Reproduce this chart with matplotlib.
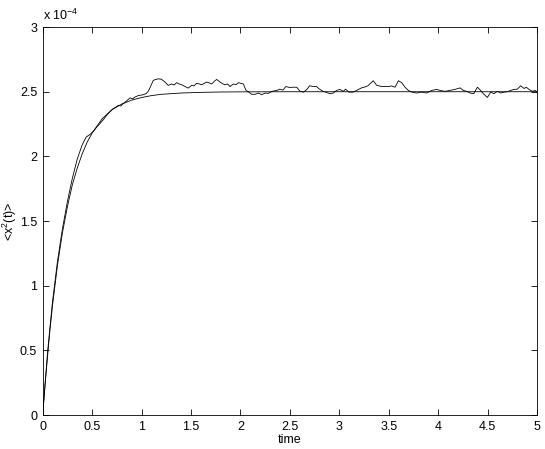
import matplotlib
matplotlib.use("Agg")
import matplotlib.pyplot as plt
from matplotlib.ticker import FuncFormatter

plt.rcParams["font.family"] = ["Liberation Sans", "DejaVu Sans"]
plt.rcParams["mathtext.default"] = "regular"

# values in units of 1e-4
theory_t = [0, 0.025, 0.05, 0.075, 0.1, 0.15, 0.2, 0.25, 0.3, 0.35, 0.4, 0.45, 0.5,
            0.6, 0.7, 0.8, 0.9, 1.0, 1.1, 1.2, 1.4, 1.6, 1.8, 2.0, 2.5, 3.0, 4.0, 5.0]
theory_v = [0, 0.24, 0.46, 0.67, 0.85, 1.16, 1.41, 1.61, 1.78, 1.91, 2.02, 2.11, 2.18,
            2.29, 2.36, 2.405, 2.435, 2.455, 2.47, 2.48, 2.49, 2.495, 2.498, 2.499, 2.5, 2.5, 2.5, 2.5]

sim_t = [0, 0.025, 0.05, 0.1, 0.15, 0.2, 0.25, 0.3, 0.35, 0.4, 0.44, 0.48, 0.52, 0.55, 0.58,
         0.62, 0.647, 0.68, 0.714, 0.74, 0.765, 0.79, 0.815, 0.85, 0.883, 0.91, 0.934, 0.967,
         1.018, 1.045, 1.068, 1.085, 1.102, 1.119, 1.145,
         1.169, 1.2, 1.237, 1.27, 1.304, 1.33, 1.355, 1.38, 1.406, 1.44, 1.473, 1.507, 1.53,
         1.557, 1.585, 1.608, 1.635,
         1.659, 1.685, 1.71, 1.735, 1.76, 1.794, 1.82, 1.845, 1.87, 1.895, 1.929, 1.955,
         1.98, 2.005, 2.03, 2.057, 2.08, 2.114,
         2.148, 2.182, 2.216, 2.25, 2.283, 2.317, 2.368, 2.40, 2.43, 2.459, 2.5, 2.535,
         2.57, 2.603, 2.64, 2.675, 2.70, 2.74, 2.77, 2.80, 2.837, 2.87, 2.905, 2.94, 2.973,
         3.006, 3.04, 3.064, 3.097, 3.14, 3.175, 3.226, 3.26, 3.29, 3.344, 3.378, 3.43,
         3.46, 3.497, 3.53, 3.564, 3.598, 3.632, 3.665, 3.699, 3.733, 3.784, 3.834, 3.884,
         3.935, 3.986, 4.02, 4.07, 4.12, 4.171, 4.222, 4.255, 4.289, 4.323, 4.36, 4.397,
         4.42, 4.464, 4.498, 4.532, 4.565, 4.599, 4.633, 4.667, 4.70, 4.734, 4.768, 4.801,
         4.835, 4.87, 4.892, 4.919, 4.953, 4.98, 5.0]
sim_v = [0, 0.25, 0.49, 0.88, 1.19, 1.44, 1.65, 1.83, 1.98, 2.09, 2.15, 2.17, 2.2, 2.23, 2.254,
         2.29, 2.318, 2.345, 2.37, 2.38, 2.395, 2.39, 2.408, 2.43, 2.452, 2.445, 2.459, 2.47,
         2.477, 2.485, 2.503, 2.53, 2.56, 2.588, 2.595,
         2.60, 2.597, 2.575, 2.549, 2.56, 2.552, 2.57, 2.56, 2.554, 2.54, 2.528, 2.55, 2.545,
         2.565, 2.56, 2.554, 2.565,
         2.575, 2.568, 2.56, 2.58, 2.595, 2.575, 2.562, 2.554, 2.56, 2.54, 2.56, 2.555,
         2.57, 2.565, 2.56, 2.51, 2.50, 2.48,
         2.48, 2.49, 2.477, 2.49, 2.487, 2.503, 2.51, 2.52, 2.512, 2.54, 2.533, 2.535,
         2.535, 2.503, 2.497, 2.52, 2.546, 2.54, 2.54, 2.52, 2.503, 2.495, 2.485, 2.49, 2.51,
         2.518, 2.503, 2.52, 2.497, 2.497, 2.51, 2.53, 2.537, 2.546, 2.585, 2.55, 2.54,
         2.54, 2.54, 2.545, 2.535, 2.585, 2.57, 2.535, 2.51, 2.497, 2.49, 2.497, 2.49,
         2.51, 2.518, 2.51, 2.503, 2.51, 2.518, 2.53, 2.51, 2.503, 2.49, 2.485, 2.535,
         2.518, 2.48, 2.456, 2.497, 2.485, 2.503, 2.49, 2.497, 2.50, 2.51, 2.518, 2.52,
         2.546, 2.525, 2.535, 2.518, 2.503, 2.51, 2.50]

fig = plt.figure(figsize=(5.45, 4.49), dpi=100)
ax = fig.add_axes([0.0783, 0.0757, 0.907, 0.864])

ax.plot(theory_t, theory_v, color="black", linewidth=0.6)
ax.plot(sim_t, sim_v, color="black", linewidth=0.6)

ax.set_xlim(0, 5)
ax.set_ylim(0, 3)
ax.set_xticks([0, 0.5, 1, 1.5, 2, 2.5, 3, 3.5, 4, 4.5, 5])
ax.set_yticks([0, 0.5, 1, 1.5, 2, 2.5, 3])
fmt = FuncFormatter(lambda v, p: f"{v:g}")
ax.xaxis.set_major_formatter(fmt)
ax.yaxis.set_major_formatter(fmt)
ax.tick_params(direction="in", top=True, right=True, length=4, width=0.6,
               labelsize=9, pad=4)
for s in ax.spines.values():
    s.set_linewidth(0.6)

ax.set_xlabel("time", fontsize=9, labelpad=1)
ax.set_ylabel("<x$^2$(t)>", fontsize=9)
ax.yaxis.set_label_coords(-0.048, 0.5)
ax.text(0.0, 1.01, "x 10$^{-4}$", transform=ax.transAxes, fontsize=9,
        ha="left", va="bottom")

fig.savefig("out.png", dpi=100)
